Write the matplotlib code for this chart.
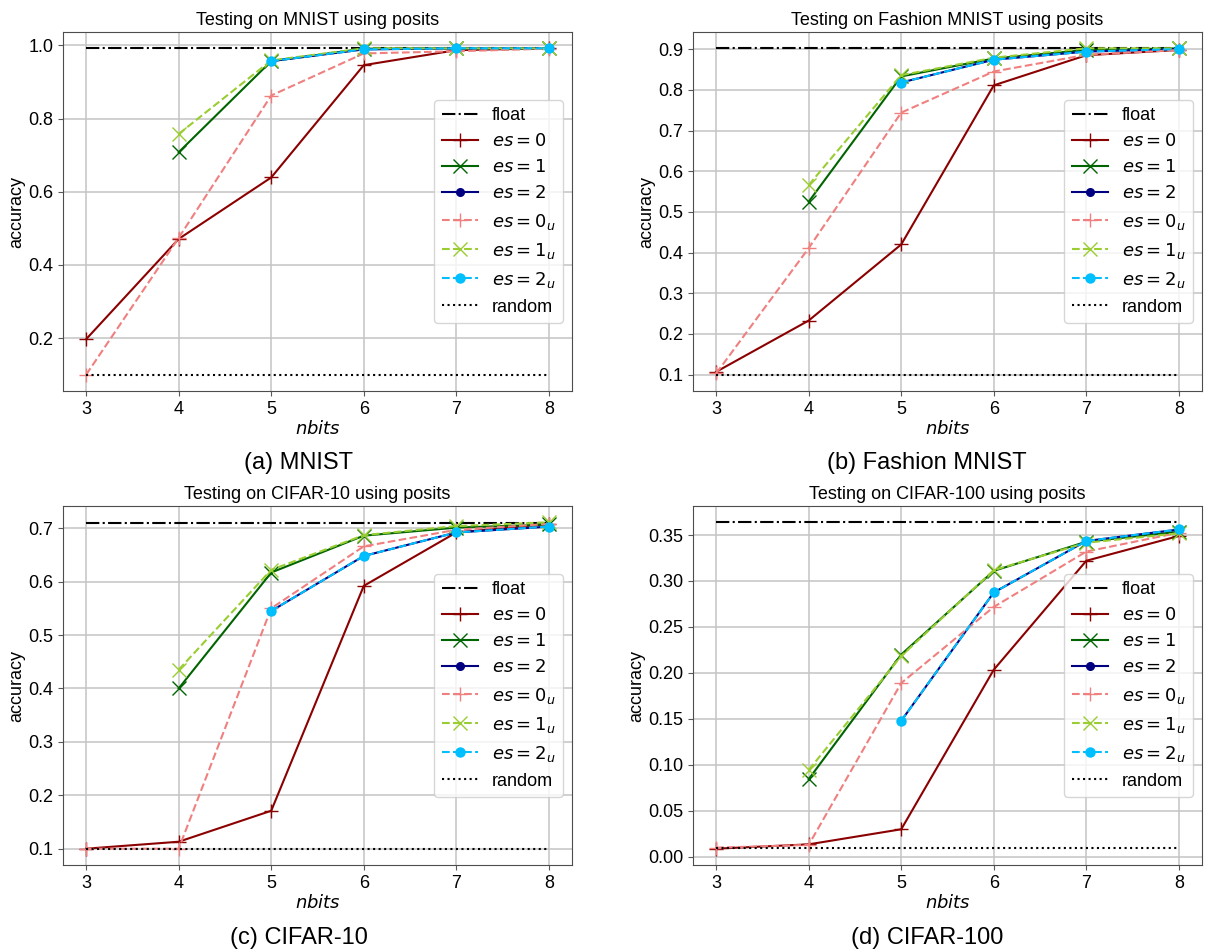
import numpy as np
import matplotlib
matplotlib.use('Agg')
import matplotlib.pyplot as plt

plt.rcParams['font.family'] = ['Liberation Sans', 'DejaVu Sans']
plt.rcParams['mathtext.fontset'] = 'dejavusans'
plt.rcParams['font.size'] = 13

nan = np.nan
nbits = [3, 4, 5, 6, 7, 8]

# MNIST
mnist_float = 0.992
mnist_random = 0.1
mnist_es0 = [0.197, 0.471, 0.639, 0.946, 0.987, 0.992]
mnist_es1 = [nan, 0.708, 0.957, 0.991, 0.992, 0.992]
mnist_es2 = [nan, nan, 0.957, 0.989, 0.992, 0.992]
mnist_es0u = [0.100, 0.474, 0.863, 0.978, 0.984, 0.991]
mnist_es1u = [nan, 0.758, 0.959, 0.992, 0.992, 0.992]
mnist_es2u = [nan, nan, 0.957, 0.989, 0.992, 0.992]

# Fashion MNIST
fashion_float = 0.902
fashion_random = 0.1
fashion_es0 = [0.107, 0.233, 0.420, 0.811, 0.885, 0.898]
fashion_es1 = [nan, 0.525, 0.833, 0.877, 0.898, 0.902]
fashion_es2 = [nan, nan, 0.818, 0.874, 0.894, 0.900]
fashion_es0u = [0.103, 0.411, 0.744, 0.845, 0.886, 0.898]
fashion_es1u = [nan, 0.566, 0.836, 0.879, 0.902, 0.902]
fashion_es2u = [nan, nan, 0.818, 0.874, 0.894, 0.900]

# CIFAR-10
cifar10_float = 0.709
cifar10_random = 0.1
cifar10_es0 = [0.100, 0.113, 0.171, 0.592, 0.692, 0.708]
cifar10_es1 = [nan, 0.400, 0.617, 0.686, 0.701, 0.707]
cifar10_es2 = [nan, nan, 0.545, 0.648, 0.692, 0.703]
cifar10_es0u = [0.100, 0.100, 0.550, 0.666, 0.697, 0.708]
cifar10_es1u = [nan, 0.435, 0.622, 0.687, 0.704, 0.711]
cifar10_es2u = [nan, nan, 0.545, 0.648, 0.692, 0.703]

# CIFAR-100
cifar100_float = 0.3638
cifar100_random = 0.01
cifar100_es0 = [0.0089, 0.0136, 0.030, 0.2035, 0.322, 0.349]
cifar100_es1 = [nan, 0.0845, 0.220, 0.311, 0.3427, 0.3536]
cifar100_es2 = [nan, nan, 0.148, 0.2875, 0.3435, 0.356]
cifar100_es0u = [0.0100, 0.013, 0.189, 0.2718, 0.332, 0.3525]
cifar100_es1u = [nan, 0.0944, 0.2184, 0.3118, 0.3416, 0.3518]
cifar100_es2u = [nan, nan, 0.148, 0.2875, 0.3435, 0.356]

titles = ['Testing on MNIST using posits', 'Testing on Fashion MNIST using posits',
          'Testing on CIFAR-10 using posits', 'Testing on CIFAR-100 using posits']
captions = ['(a) MNIST', '(b) Fashion MNIST', '(c) CIFAR-10', '(d) CIFAR-100']

panels = [
    (mnist_float, mnist_random, [mnist_es0, mnist_es1, mnist_es2, mnist_es0u, mnist_es1u, mnist_es2u]),
    (fashion_float, fashion_random, [fashion_es0, fashion_es1, fashion_es2, fashion_es0u, fashion_es1u, fashion_es2u]),
    (cifar10_float, cifar10_random, [cifar10_es0, cifar10_es1, cifar10_es2, cifar10_es0u, cifar10_es1u, cifar10_es2u]),
    (cifar100_float, cifar100_random, [cifar100_es0, cifar100_es1, cifar100_es2, cifar100_es0u, cifar100_es1u, cifar100_es2u]),
]

# label, colour, linestyle, marker, markersize
styles = [
    (r'$es = 0$', 'darkred', '-', '+', 10),
    (r'$es = 1$', 'darkgreen', '-', 'x', 10),
    (r'$es = 2$', 'navy', '-', '.', 11),
    (r'$es = 0_u$', 'lightcoral', '--', '+', 10),
    (r'$es = 1_u$', 'yellowgreen', '--', 'x', 10),
    (r'$es = 2_u$', 'deepskyblue', '--', '.', 13),
]

W, H = 1219, 951
fig = plt.figure(figsize=(W / 100, H / 100), dpi=100)

# axes boxes in pixels: left, top, right, bottom
boxes = [(63, 32, 572, 391), (693, 32, 1202, 391),
         (63, 506, 572, 865), (693, 506, 1202, 865)]
caption_pos = [(299, 463), (927, 463), (299, 938), (927, 938)]

for i, (fl, rnd, series) in enumerate(panels):
    l, t, r, b = boxes[i]
    ax = fig.add_axes([l / W, 1 - b / H, (r - l) / W, (b - t) / H])
    ax.plot(nbits, [fl] * len(nbits), color='black', ls='-.', lw=1.5, label='float')
    for (lab, col, ls, mk, ms), vals in zip(styles, series):
        ax.plot(nbits, vals, color=col, ls=ls, marker=mk, ms=ms, lw=1.5, label=lab)
    ax.plot(nbits, [rnd] * len(nbits), color='black', ls=':', lw=1.5, label='random')

    ax.set_title(titles[i], fontsize=13, pad=5)
    ax.set_xlabel('$nbits$', fontsize=13, labelpad=2)
    ax.set_ylabel('accuracy', fontsize=13, labelpad=2)
    ax.set_xticks(nbits)
    ax.tick_params(labelsize=13, color='0.35')
    ax.grid(True, color='#c4c4c4', lw=1.1)
    for sp in ax.spines.values():
        sp.set_color('0.3')
    ax.legend(loc='center right', fontsize=13)

    cx, cy = caption_pos[i]
    fig.text(cx / W, 1 - cy / H, captions[i], fontsize=17, ha='center', va='center')

fig.savefig('out.png', dpi=100)
